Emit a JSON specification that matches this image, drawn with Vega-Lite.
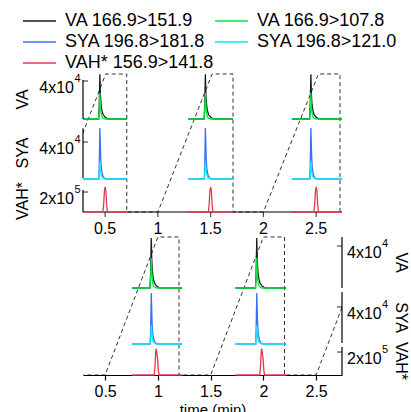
{
"$schema": "https://vega.github.io/schema/vega-lite/v6.json",
"width": 259, "height": 305,
"autosize": {"type": "none"},
"padding": {"left": 83, "top": 70, "right": 69, "bottom": 37},
"config": {"view": {"stroke": null}, "font": "Liberation Sans", "text": {"color": "black"}},
"datasets": {
"tr": [
{"p":"T","n":1,"s":"k","t":0.29,"v":0},{"p":"T","n":1,"s":"k","t":0.438,"v":0},{"p":"T","n":1,"s":"k","t":0.444,"v":14100},{"p":"T","n":1,"s":"k","t":0.45,"v":47000},{"p":"T","n":1,"s":"k","t":0.455,"v":25850},{"p":"T","n":1,"s":"k","t":0.46,"v":16450},{"p":"T","n":1,"s":"k","t":0.468,"v":9400},{"p":"T","n":1,"s":"k","t":0.48,"v":4700},{"p":"T","n":1,"s":"k","t":0.5,"v":1880},{"p":"T","n":1,"s":"k","t":0.53,"v":0},{"p":"T","n":1,"s":"k","t":0.705,"v":0},
{"p":"T","n":2,"s":"k","t":1.285,"v":0},{"p":"T","n":2,"s":"k","t":1.438,"v":0},{"p":"T","n":2,"s":"k","t":1.444,"v":14100},{"p":"T","n":2,"s":"k","t":1.45,"v":47000},{"p":"T","n":2,"s":"k","t":1.455,"v":25850},{"p":"T","n":2,"s":"k","t":1.46,"v":16450},{"p":"T","n":2,"s":"k","t":1.468,"v":9400},{"p":"T","n":2,"s":"k","t":1.48,"v":4700},{"p":"T","n":2,"s":"k","t":1.5,"v":1880},{"p":"T","n":2,"s":"k","t":1.53,"v":0},{"p":"T","n":2,"s":"k","t":1.712,"v":0},
{"p":"T","n":3,"s":"k","t":2.27,"v":0},{"p":"T","n":3,"s":"k","t":2.438,"v":0},{"p":"T","n":3,"s":"k","t":2.444,"v":14100},{"p":"T","n":3,"s":"k","t":2.45,"v":47000},{"p":"T","n":3,"s":"k","t":2.455,"v":25850},{"p":"T","n":3,"s":"k","t":2.46,"v":16450},{"p":"T","n":3,"s":"k","t":2.468,"v":9400},{"p":"T","n":3,"s":"k","t":2.48,"v":4700},{"p":"T","n":3,"s":"k","t":2.5,"v":1880},{"p":"T","n":3,"s":"k","t":2.53,"v":0},{"p":"T","n":3,"s":"k","t":2.745,"v":0},
{"p":"T","n":1,"s":"g","t":0.29,"v":0},{"p":"T","n":1,"s":"g","t":0.438,"v":0},{"p":"T","n":1,"s":"g","t":0.444,"v":9625},{"p":"T","n":1,"s":"g","t":0.45,"v":27500},{"p":"T","n":1,"s":"g","t":0.455,"v":13750},{"p":"T","n":1,"s":"g","t":0.46,"v":6875},{"p":"T","n":1,"s":"g","t":0.468,"v":2750},{"p":"T","n":1,"s":"g","t":0.48,"v":825},{"p":"T","n":1,"s":"g","t":0.5,"v":0},{"p":"T","n":1,"s":"g","t":0.705,"v":0},
{"p":"T","n":2,"s":"g","t":1.285,"v":0},{"p":"T","n":2,"s":"g","t":1.438,"v":0},{"p":"T","n":2,"s":"g","t":1.444,"v":9625},{"p":"T","n":2,"s":"g","t":1.45,"v":27500},{"p":"T","n":2,"s":"g","t":1.455,"v":13750},{"p":"T","n":2,"s":"g","t":1.46,"v":6875},{"p":"T","n":2,"s":"g","t":1.468,"v":2750},{"p":"T","n":2,"s":"g","t":1.48,"v":825},{"p":"T","n":2,"s":"g","t":1.5,"v":0},{"p":"T","n":2,"s":"g","t":1.712,"v":0},
{"p":"T","n":3,"s":"g","t":2.27,"v":0},{"p":"T","n":3,"s":"g","t":2.438,"v":0},{"p":"T","n":3,"s":"g","t":2.444,"v":9625},{"p":"T","n":3,"s":"g","t":2.45,"v":27500},{"p":"T","n":3,"s":"g","t":2.455,"v":13750},{"p":"T","n":3,"s":"g","t":2.46,"v":6875},{"p":"T","n":3,"s":"g","t":2.468,"v":2750},{"p":"T","n":3,"s":"g","t":2.48,"v":825},{"p":"T","n":3,"s":"g","t":2.5,"v":0},{"p":"T","n":3,"s":"g","t":2.745,"v":0},
{"p":"T","n":1,"s":"b","t":0.29,"v":0},{"p":"T","n":1,"s":"b","t":0.44,"v":0},{"p":"T","n":1,"s":"b","t":0.445,"v":22000},{"p":"T","n":1,"s":"b","t":0.45,"v":55000},{"p":"T","n":1,"s":"b","t":0.454,"v":38500},{"p":"T","n":1,"s":"b","t":0.458,"v":22000},{"p":"T","n":1,"s":"b","t":0.464,"v":11000},{"p":"T","n":1,"s":"b","t":0.475,"v":4400},{"p":"T","n":1,"s":"b","t":0.49,"v":1100},{"p":"T","n":1,"s":"b","t":0.51,"v":0},{"p":"T","n":1,"s":"b","t":0.705,"v":0},
{"p":"T","n":2,"s":"b","t":1.285,"v":0},{"p":"T","n":2,"s":"b","t":1.44,"v":0},{"p":"T","n":2,"s":"b","t":1.445,"v":22000},{"p":"T","n":2,"s":"b","t":1.45,"v":55000},{"p":"T","n":2,"s":"b","t":1.454,"v":38500},{"p":"T","n":2,"s":"b","t":1.458,"v":22000},{"p":"T","n":2,"s":"b","t":1.464,"v":11000},{"p":"T","n":2,"s":"b","t":1.475,"v":4400},{"p":"T","n":2,"s":"b","t":1.49,"v":1100},{"p":"T","n":2,"s":"b","t":1.51,"v":0},{"p":"T","n":2,"s":"b","t":1.712,"v":0},
{"p":"T","n":3,"s":"b","t":2.27,"v":0},{"p":"T","n":3,"s":"b","t":2.44,"v":0},{"p":"T","n":3,"s":"b","t":2.445,"v":22000},{"p":"T","n":3,"s":"b","t":2.45,"v":55000},{"p":"T","n":3,"s":"b","t":2.454,"v":38500},{"p":"T","n":3,"s":"b","t":2.458,"v":22000},{"p":"T","n":3,"s":"b","t":2.464,"v":11000},{"p":"T","n":3,"s":"b","t":2.475,"v":4400},{"p":"T","n":3,"s":"b","t":2.49,"v":1100},{"p":"T","n":3,"s":"b","t":2.51,"v":0},{"p":"T","n":3,"s":"b","t":2.745,"v":0},
{"p":"T","n":1,"s":"c","t":0.29,"v":0},{"p":"T","n":1,"s":"c","t":0.44,"v":0},{"p":"T","n":1,"s":"c","t":0.445,"v":7600},{"p":"T","n":1,"s":"c","t":0.45,"v":19000},{"p":"T","n":1,"s":"c","t":0.454,"v":13300},{"p":"T","n":1,"s":"c","t":0.458,"v":7600},{"p":"T","n":1,"s":"c","t":0.464,"v":3800},{"p":"T","n":1,"s":"c","t":0.475,"v":1520},{"p":"T","n":1,"s":"c","t":0.49,"v":380},{"p":"T","n":1,"s":"c","t":0.51,"v":0},{"p":"T","n":1,"s":"c","t":0.705,"v":0},
{"p":"T","n":2,"s":"c","t":1.285,"v":0},{"p":"T","n":2,"s":"c","t":1.44,"v":0},{"p":"T","n":2,"s":"c","t":1.445,"v":7600},{"p":"T","n":2,"s":"c","t":1.45,"v":19000},{"p":"T","n":2,"s":"c","t":1.454,"v":13300},{"p":"T","n":2,"s":"c","t":1.458,"v":7600},{"p":"T","n":2,"s":"c","t":1.464,"v":3800},{"p":"T","n":2,"s":"c","t":1.475,"v":1520},{"p":"T","n":2,"s":"c","t":1.49,"v":380},{"p":"T","n":2,"s":"c","t":1.51,"v":0},{"p":"T","n":2,"s":"c","t":1.712,"v":0},
{"p":"T","n":3,"s":"c","t":2.27,"v":0},{"p":"T","n":3,"s":"c","t":2.44,"v":0},{"p":"T","n":3,"s":"c","t":2.445,"v":7600},{"p":"T","n":3,"s":"c","t":2.45,"v":19000},{"p":"T","n":3,"s":"c","t":2.454,"v":13300},{"p":"T","n":3,"s":"c","t":2.458,"v":7600},{"p":"T","n":3,"s":"c","t":2.464,"v":3800},{"p":"T","n":3,"s":"c","t":2.475,"v":1520},{"p":"T","n":3,"s":"c","t":2.49,"v":380},{"p":"T","n":3,"s":"c","t":2.51,"v":0},{"p":"T","n":3,"s":"c","t":2.745,"v":0},
{"p":"T","n":1,"s":"r","t":0.29,"v":0},{"p":"T","n":1,"s":"r","t":0.478,"v":0},{"p":"T","n":1,"s":"r","t":0.486,"v":75000},{"p":"T","n":1,"s":"r","t":0.493,"v":212500},{"p":"T","n":1,"s":"r","t":0.5,"v":250000},{"p":"T","n":1,"s":"r","t":0.507,"v":212500},{"p":"T","n":1,"s":"r","t":0.514,"v":75000},{"p":"T","n":1,"s":"r","t":0.522,"v":0},{"p":"T","n":1,"s":"r","t":0.705,"v":0},
{"p":"T","n":2,"s":"r","t":1.285,"v":0},{"p":"T","n":2,"s":"r","t":1.478,"v":0},{"p":"T","n":2,"s":"r","t":1.486,"v":75000},{"p":"T","n":2,"s":"r","t":1.493,"v":212500},{"p":"T","n":2,"s":"r","t":1.5,"v":250000},{"p":"T","n":2,"s":"r","t":1.507,"v":212500},{"p":"T","n":2,"s":"r","t":1.514,"v":75000},{"p":"T","n":2,"s":"r","t":1.522,"v":0},{"p":"T","n":2,"s":"r","t":1.712,"v":0},
{"p":"T","n":3,"s":"r","t":2.27,"v":0},{"p":"T","n":3,"s":"r","t":2.478,"v":0},{"p":"T","n":3,"s":"r","t":2.486,"v":75000},{"p":"T","n":3,"s":"r","t":2.493,"v":212500},{"p":"T","n":3,"s":"r","t":2.5,"v":250000},{"p":"T","n":3,"s":"r","t":2.507,"v":212500},{"p":"T","n":3,"s":"r","t":2.514,"v":75000},{"p":"T","n":3,"s":"r","t":2.522,"v":0},{"p":"T","n":3,"s":"r","t":2.745,"v":0},
{"p":"B","n":1,"s":"k","t":0.755,"v":0},{"p":"B","n":1,"s":"k","t":0.925,"v":0},{"p":"B","n":1,"s":"k","t":0.931,"v":14250},{"p":"B","n":1,"s":"k","t":0.937,"v":47500},{"p":"B","n":1,"s":"k","t":0.942,"v":26125},{"p":"B","n":1,"s":"k","t":0.947,"v":16625},{"p":"B","n":1,"s":"k","t":0.955,"v":9500},{"p":"B","n":1,"s":"k","t":0.967,"v":4750},{"p":"B","n":1,"s":"k","t":0.987,"v":1900},{"p":"B","n":1,"s":"k","t":1.017,"v":0},{"p":"B","n":1,"s":"k","t":1.23,"v":0},
{"p":"B","n":2,"s":"k","t":1.735,"v":0},{"p":"B","n":2,"s":"k","t":1.925,"v":0},{"p":"B","n":2,"s":"k","t":1.931,"v":14250},{"p":"B","n":2,"s":"k","t":1.937,"v":47500},{"p":"B","n":2,"s":"k","t":1.942,"v":26125},{"p":"B","n":2,"s":"k","t":1.947,"v":16625},{"p":"B","n":2,"s":"k","t":1.955,"v":9500},{"p":"B","n":2,"s":"k","t":1.967,"v":4750},{"p":"B","n":2,"s":"k","t":1.987,"v":1900},{"p":"B","n":2,"s":"k","t":2.017,"v":0},{"p":"B","n":2,"s":"k","t":2.215,"v":0},
{"p":"B","n":1,"s":"g","t":0.755,"v":0},{"p":"B","n":1,"s":"g","t":0.925,"v":0},{"p":"B","n":1,"s":"g","t":0.931,"v":9975},{"p":"B","n":1,"s":"g","t":0.937,"v":28500},{"p":"B","n":1,"s":"g","t":0.942,"v":14250},{"p":"B","n":1,"s":"g","t":0.947,"v":7125},{"p":"B","n":1,"s":"g","t":0.955,"v":2850},{"p":"B","n":1,"s":"g","t":0.967,"v":855},{"p":"B","n":1,"s":"g","t":0.987,"v":0},{"p":"B","n":1,"s":"g","t":1.23,"v":0},
{"p":"B","n":2,"s":"g","t":1.735,"v":0},{"p":"B","n":2,"s":"g","t":1.925,"v":0},{"p":"B","n":2,"s":"g","t":1.931,"v":9975},{"p":"B","n":2,"s":"g","t":1.937,"v":28500},{"p":"B","n":2,"s":"g","t":1.942,"v":14250},{"p":"B","n":2,"s":"g","t":1.947,"v":7125},{"p":"B","n":2,"s":"g","t":1.955,"v":2850},{"p":"B","n":2,"s":"g","t":1.967,"v":855},{"p":"B","n":2,"s":"g","t":1.987,"v":0},{"p":"B","n":2,"s":"g","t":2.215,"v":0},
{"p":"B","n":1,"s":"b","t":0.755,"v":0},{"p":"B","n":1,"s":"b","t":0.927,"v":0},{"p":"B","n":1,"s":"b","t":0.932,"v":22000},{"p":"B","n":1,"s":"b","t":0.937,"v":55000},{"p":"B","n":1,"s":"b","t":0.941,"v":38500},{"p":"B","n":1,"s":"b","t":0.945,"v":22000},{"p":"B","n":1,"s":"b","t":0.951,"v":11000},{"p":"B","n":1,"s":"b","t":0.962,"v":4400},{"p":"B","n":1,"s":"b","t":0.977,"v":1100},{"p":"B","n":1,"s":"b","t":0.997,"v":0},{"p":"B","n":1,"s":"b","t":1.23,"v":0},
{"p":"B","n":2,"s":"b","t":1.735,"v":0},{"p":"B","n":2,"s":"b","t":1.927,"v":0},{"p":"B","n":2,"s":"b","t":1.932,"v":22000},{"p":"B","n":2,"s":"b","t":1.937,"v":55000},{"p":"B","n":2,"s":"b","t":1.941,"v":38500},{"p":"B","n":2,"s":"b","t":1.945,"v":22000},{"p":"B","n":2,"s":"b","t":1.951,"v":11000},{"p":"B","n":2,"s":"b","t":1.962,"v":4400},{"p":"B","n":2,"s":"b","t":1.977,"v":1100},{"p":"B","n":2,"s":"b","t":1.997,"v":0},{"p":"B","n":2,"s":"b","t":2.215,"v":0},
{"p":"B","n":1,"s":"c","t":0.755,"v":0},{"p":"B","n":1,"s":"c","t":0.927,"v":0},{"p":"B","n":1,"s":"c","t":0.932,"v":8000},{"p":"B","n":1,"s":"c","t":0.937,"v":20000},{"p":"B","n":1,"s":"c","t":0.941,"v":14000},{"p":"B","n":1,"s":"c","t":0.945,"v":8000},{"p":"B","n":1,"s":"c","t":0.951,"v":4000},{"p":"B","n":1,"s":"c","t":0.962,"v":1600},{"p":"B","n":1,"s":"c","t":0.977,"v":400},{"p":"B","n":1,"s":"c","t":0.997,"v":0},{"p":"B","n":1,"s":"c","t":1.23,"v":0},
{"p":"B","n":2,"s":"c","t":1.735,"v":0},{"p":"B","n":2,"s":"c","t":1.927,"v":0},{"p":"B","n":2,"s":"c","t":1.932,"v":8000},{"p":"B","n":2,"s":"c","t":1.937,"v":20000},{"p":"B","n":2,"s":"c","t":1.941,"v":14000},{"p":"B","n":2,"s":"c","t":1.945,"v":8000},{"p":"B","n":2,"s":"c","t":1.951,"v":4000},{"p":"B","n":2,"s":"c","t":1.962,"v":1600},{"p":"B","n":2,"s":"c","t":1.977,"v":400},{"p":"B","n":2,"s":"c","t":1.997,"v":0},{"p":"B","n":2,"s":"c","t":2.215,"v":0},
{"p":"B","n":1,"s":"r","t":0.755,"v":0},{"p":"B","n":1,"s":"r","t":0.965,"v":0},{"p":"B","n":1,"s":"r","t":0.973,"v":80000},{"p":"B","n":1,"s":"r","t":0.979,"v":200000},{"p":"B","n":1,"s":"r","t":0.984,"v":230000},{"p":"B","n":1,"s":"r","t":0.991,"v":180000},{"p":"B","n":1,"s":"r","t":0.997,"v":140000},{"p":"B","n":1,"s":"r","t":1.004,"v":40000},{"p":"B","n":1,"s":"r","t":1.012,"v":0},{"p":"B","n":1,"s":"r","t":1.23,"v":0},
{"p":"B","n":2,"s":"r","t":1.735,"v":0},{"p":"B","n":2,"s":"r","t":1.965,"v":0},{"p":"B","n":2,"s":"r","t":1.973,"v":80000},{"p":"B","n":2,"s":"r","t":1.979,"v":200000},{"p":"B","n":2,"s":"r","t":1.984,"v":230000},{"p":"B","n":2,"s":"r","t":1.991,"v":180000},{"p":"B","n":2,"s":"r","t":1.997,"v":140000},{"p":"B","n":2,"s":"r","t":2.004,"v":40000},{"p":"B","n":2,"s":"r","t":2.012,"v":0},{"p":"B","n":2,"s":"r","t":2.215,"v":0}
],
"ax": [
{"p":"T","lane":"VA","lo":0,"hi":41000,"tv":40000,"lab":"4x10","sup":"4"},
{"p":"T","lane":"SYA","lo":1000,"hi":55000,"tv":40000,"lab":"4x10","sup":"4"},
{"p":"T","lane":"VAH*","lo":0,"hi":220000,"tv":200000,"lab":"2x10","sup":"5"},
{"p":"B","lane":"VA","lo":0,"hi":48600,"tv":40000,"lab":"4x10","sup":"4"},
{"p":"B","lane":"SYA","lo":1000,"hi":56200,"tv":40000,"lab":"4x10","sup":"4"},
{"p":"B","lane":"VAH*","lo":0,"hi":243000,"tv":200000,"lab":"2x10","sup":"5"}
],
"dash": [
{"p":"T","i":0,"t":0.0,"f":0},{"p":"T","i":1,"t":0.505,"f":1},{"p":"T","i":2,"t":0.705,"f":1},{"p":"T","i":3,"t":0.705,"f":0},
{"p":"T","i":4,"t":1.0,"f":0},{"p":"T","i":5,"t":1.513,"f":1},{"p":"T","i":6,"t":1.712,"f":1},{"p":"T","i":7,"t":1.712,"f":0},
{"p":"T","i":8,"t":2.0,"f":0},{"p":"T","i":9,"t":2.522,"f":1},{"p":"T","i":10,"t":2.726,"f":1},{"p":"T","i":11,"t":2.726,"f":0},
{"p":"B","i":0,"t":0.2,"f":0},{"p":"B","i":1,"t":0.5,"f":0},{"p":"B","i":2,"t":1.0,"f":1},{"p":"B","i":3,"t":1.2,"f":1},{"p":"B","i":4,"t":1.2,"f":0},
{"p":"B","i":5,"t":1.5,"f":0},{"p":"B","i":6,"t":2.0,"f":1},{"p":"B","i":7,"t":2.2,"f":1},{"p":"B","i":8,"t":2.2,"f":0},
{"p":"B","i":9,"t":2.5,"f":0},{"p":"B","i":10,"t":3.0,"f":1}
],
"xt": [{"t":0.5},{"t":1},{"t":1.5},{"t":2},{"t":2.5}]
},
"layer": [
{"layer": [
 {"data": {"name": "dash"}, "transform": [{"filter": "datum.p=='B'"}], "mark": {"type": "line", "color": "#333", "strokeWidth": 1, "strokeDash": [4, 3], "clip": true},
  "encoding": {"x": {"field": "t", "type": "quantitative", "title": "time (min)", "scale": {"domain": [0.29, 2.745], "nice": false, "zero": false},
   "axis": {"values": [0.5,1,1.5,2,2.5], "format": "~g", "grid": false, "tickSize": 5, "labelPadding": 3, "labelFontSize": 16, "labelColor": "black", "titleFontSize": 15, "titleFontWeight": "normal", "titleColor": "black", "titlePadding": 3, "domainColor": "black", "domainWidth": 1.2, "tickColor": "black", "tickWidth": 1.2, "labelFlush": false}},
   "y": {"field": "f", "type": "quantitative", "scale": {"domain": [0, 2.2101], "nice": false, "zero": false}, "axis": null}, "order": {"field": "i"}}}
]},
{"layer": [
 {"data": {"name": "dash"}, "transform": [{"filter": "datum.p=='T'"}], "mark": {"type": "line", "color": "#333", "strokeWidth": 1, "strokeDash": [4, 3], "clip": true},
  "encoding": {"x": {"field": "t", "type": "quantitative", "title": "time (min)"}, "y": {"field": "f", "type": "quantitative", "scale": {"domain": [-1.1812, 1.029], "nice": false, "zero": false}, "axis": null}, "order": {"field": "i"}}},
 {"data": {"values": [{}]}, "mark": {"type": "rule", "color": "black", "strokeWidth": 1.2}, "encoding": {"x": {"datum": 0.29, "type": "quantitative", "title": "time (min)"}, "x2": {"datum": 2.745}, "y": {"datum": 0}}},
 {"data": {"name": "xt"}, "mark": {"type": "tick", "orient": "vertical", "size": 5, "thickness": 1.2, "yOffset": 2.5, "color": "black"}, "encoding": {"x": {"field": "t", "type": "quantitative", "title": "time (min)"}, "y": {"datum": 0}}},
 {"data": {"name": "xt"}, "mark": {"type": "text", "baseline": "top", "dy": 9, "fontSize": 16}, "encoding": {"x": {"field": "t", "type": "quantitative", "title": "time (min)"}, "y": {"datum": 0}, "text": {"field": "t", "type": "quantitative", "format": "~g"}}}
]},
{"layer": [
 {"data": {"name": "tr"}, "transform": [{"filter": "datum.p=='T' && (datum.s=='k' || datum.s=='g')"}], "mark": {"type": "line", "strokeWidth": 1.3},
  "encoding": {"x": {"field": "t", "type": "quantitative", "title": "time (min)"}, "y": {"field": "v", "type": "quantitative", "scale": {"domain": [-269474, 51579], "nice": false, "zero": false}, "axis": null},
   "color": {"field": "s", "type": "nominal", "scale": {"domain": ["k","b","r","g","c"], "range": ["#1a1a1a","#3b6ff2","#e5384c","#00e640","#14e6f2"]},
    "legend": {"orient": "none", "legendX": -61, "legendY": -58, "columns": 2, "title": null, "symbolType": "stroke", "symbolSize": 1089, "symbolStrokeWidth": 1.5, "labelFontSize": 18, "labelColor": "black", "labelOffset": 8, "columnPadding": -16, "rowPadding": 3, "labelLimit": 400, "padding": 0, "clipHeight": 18,
     "labelExpr": "datum.label=='k'?'VA 166.9>151.9':datum.label=='g'?'VA 166.9>107.8':datum.label=='b'?'SYA 196.8>181.8':datum.label=='c'?'SYA 196.8>121.0':'VAH* 156.9>141.8'"}},
   "detail": {"field": "n", "type": "nominal"}}},
 {"data": {"name": "ax"}, "transform": [{"filter": "datum.p=='T' && datum.lane=='VA'"}], "mark": {"type": "rule", "color": "black", "strokeWidth": 1.2}, "encoding": {"x": {"datum": 0.29, "type": "quantitative", "title": "time (min)"}, "y": {"field": "lo", "type": "quantitative"}, "y2": {"field": "hi"}}},
 {"data": {"name": "ax"}, "transform": [{"filter": "datum.p=='T' && datum.lane=='VA'"}], "mark": {"type": "tick", "orient": "horizontal", "size": 5, "thickness": 1.2, "xOffset": 2.5, "color": "black"}, "encoding": {"x": {"datum": 0.29, "type": "quantitative", "title": "time (min)"}, "y": {"field": "tv", "type": "quantitative"}}},
 {"data": {"name": "ax"}, "transform": [{"filter": "datum.p=='T' && datum.lane=='VA'"}], "mark": {"type": "text", "align": "right", "baseline": "alphabetic", "dx": -9, "dy": 12, "fontSize": 16}, "encoding": {"x": {"datum": 0.29, "type": "quantitative", "title": "time (min)"}, "y": {"field": "tv", "type": "quantitative"}, "text": {"field": "lab", "type": "nominal"}}},
 {"data": {"name": "ax"}, "transform": [{"filter": "datum.p=='T' && datum.lane=='VA'"}], "mark": {"type": "text", "align": "left", "baseline": "alphabetic", "dx": -8.5, "dy": 1, "fontSize": 11}, "encoding": {"x": {"datum": 0.29, "type": "quantitative", "title": "time (min)"}, "y": {"field": "tv", "type": "quantitative"}, "text": {"field": "sup", "type": "nominal"}}},
 {"data": {"name": "ax"}, "transform": [{"filter": "datum.p=='T' && datum.lane=='VA'"}, {"calculate": "(datum.lo+datum.hi)/2", "as": "mid"}], "mark": {"type": "text", "align": "center", "baseline": "alphabetic", "angle": 270, "dy": -55, "fontSize": 16}, "encoding": {"x": {"datum": 0.29, "type": "quantitative", "title": "time (min)"}, "y": {"field": "mid", "type": "quantitative"}, "text": {"field": "lane", "type": "nominal"}}}
]},
{"layer": [
 {"data": {"name": "tr"}, "transform": [{"filter": "datum.p=='T' && (datum.s=='b' || datum.s=='c')"}], "mark": {"type": "line", "strokeWidth": 1.3},
  "encoding": {"x": {"field": "t", "type": "quantitative", "title": "time (min)"}, "y": {"field": "v", "type": "quantitative", "scale": {"domain": [-211892, 117838], "nice": false, "zero": false}, "axis": null},
   "color": {"field": "s", "type": "nominal", "legend": null}, "detail": {"field": "n", "type": "nominal"}}},
 {"data": {"name": "ax"}, "transform": [{"filter": "datum.p=='T' && datum.lane=='SYA'"}], "mark": {"type": "rule", "color": "black", "strokeWidth": 1.2}, "encoding": {"x": {"datum": 0.29, "type": "quantitative", "title": "time (min)"}, "y": {"field": "lo", "type": "quantitative"}, "y2": {"field": "hi"}}},
 {"data": {"name": "ax"}, "transform": [{"filter": "datum.p=='T' && datum.lane=='SYA'"}], "mark": {"type": "tick", "orient": "horizontal", "size": 5, "thickness": 1.2, "xOffset": 2.5, "color": "black"}, "encoding": {"x": {"datum": 0.29, "type": "quantitative", "title": "time (min)"}, "y": {"field": "tv", "type": "quantitative"}}},
 {"data": {"name": "ax"}, "transform": [{"filter": "datum.p=='T' && datum.lane=='SYA'"}], "mark": {"type": "text", "align": "right", "baseline": "alphabetic", "dx": -9, "dy": 12, "fontSize": 16}, "encoding": {"x": {"datum": 0.29, "type": "quantitative", "title": "time (min)"}, "y": {"field": "tv", "type": "quantitative"}, "text": {"field": "lab", "type": "nominal"}}},
 {"data": {"name": "ax"}, "transform": [{"filter": "datum.p=='T' && datum.lane=='SYA'"}], "mark": {"type": "text", "align": "left", "baseline": "alphabetic", "dx": -8.5, "dy": 1, "fontSize": 11}, "encoding": {"x": {"datum": 0.29, "type": "quantitative", "title": "time (min)"}, "y": {"field": "tv", "type": "quantitative"}, "text": {"field": "sup", "type": "nominal"}}},
 {"data": {"name": "ax"}, "transform": [{"filter": "datum.p=='T' && datum.lane=='SYA'"}, {"calculate": "(datum.lo+datum.hi)/2", "as": "mid"}], "mark": {"type": "text", "align": "center", "baseline": "alphabetic", "angle": 270, "dy": -55, "fontSize": 16}, "encoding": {"x": {"datum": 0.29, "type": "quantitative", "title": "time (min)"}, "y": {"field": "mid", "type": "quantitative"}, "text": {"field": "lane", "type": "nominal"}}}
]},
{"layer": [
 {"data": {"name": "tr"}, "transform": [{"filter": "datum.p=='T' && datum.s=='r'"}], "mark": {"type": "line", "strokeWidth": 1.3},
  "encoding": {"x": {"field": "t", "type": "quantitative", "title": "time (min)"}, "y": {"field": "v", "type": "quantitative", "scale": {"domain": [-1630000, 1420000], "nice": false, "zero": false}, "axis": null},
   "color": {"field": "s", "type": "nominal", "legend": null}, "detail": {"field": "n", "type": "nominal"}}},
 {"data": {"name": "ax"}, "transform": [{"filter": "datum.p=='T' && datum.lane=='VAH*'"}], "mark": {"type": "rule", "color": "black", "strokeWidth": 1.2}, "encoding": {"x": {"datum": 0.29, "type": "quantitative", "title": "time (min)"}, "y": {"field": "lo", "type": "quantitative"}, "y2": {"field": "hi"}}},
 {"data": {"name": "ax"}, "transform": [{"filter": "datum.p=='T' && datum.lane=='VAH*'"}], "mark": {"type": "tick", "orient": "horizontal", "size": 5, "thickness": 1.2, "xOffset": 2.5, "color": "black"}, "encoding": {"x": {"datum": 0.29, "type": "quantitative", "title": "time (min)"}, "y": {"field": "tv", "type": "quantitative"}}},
 {"data": {"name": "ax"}, "transform": [{"filter": "datum.p=='T' && datum.lane=='VAH*'"}], "mark": {"type": "text", "align": "right", "baseline": "alphabetic", "dx": -9, "dy": 12, "fontSize": 16}, "encoding": {"x": {"datum": 0.29, "type": "quantitative", "title": "time (min)"}, "y": {"field": "tv", "type": "quantitative"}, "text": {"field": "lab", "type": "nominal"}}},
 {"data": {"name": "ax"}, "transform": [{"filter": "datum.p=='T' && datum.lane=='VAH*'"}], "mark": {"type": "text", "align": "left", "baseline": "alphabetic", "dx": -8.5, "dy": 1, "fontSize": 11}, "encoding": {"x": {"datum": 0.29, "type": "quantitative", "title": "time (min)"}, "y": {"field": "tv", "type": "quantitative"}, "text": {"field": "sup", "type": "nominal"}}},
 {"data": {"name": "ax"}, "transform": [{"filter": "datum.p=='T' && datum.lane=='VAH*'"}, {"calculate": "(datum.lo+datum.hi)/2", "as": "mid"}], "mark": {"type": "text", "align": "center", "baseline": "alphabetic", "angle": 270, "dy": -55, "fontSize": 16}, "encoding": {"x": {"datum": 0.29, "type": "quantitative", "title": "time (min)"}, "y": {"field": "mid", "type": "quantitative"}, "text": {"field": "lane", "type": "nominal"}}}
]},
{"layer": [
 {"data": {"name": "tr"}, "transform": [{"filter": "datum.p=='B' && (datum.s=='k' || datum.s=='g')"}], "mark": {"type": "line", "strokeWidth": 1.3},
  "encoding": {"x": {"field": "t", "type": "quantitative", "title": "time (min)"}, "y": {"field": "v", "type": "quantitative", "scale": {"domain": [-82857, 207619], "nice": false, "zero": false}, "axis": null},
   "color": {"field": "s", "type": "nominal", "legend": null}, "detail": {"field": "n", "type": "nominal"}}},
 {"data": {"name": "ax"}, "transform": [{"filter": "datum.p=='B' && datum.lane=='VA'"}], "mark": {"type": "rule", "color": "black", "strokeWidth": 1.2}, "encoding": {"x": {"datum": 2.745, "type": "quantitative", "title": "time (min)"}, "y": {"field": "lo", "type": "quantitative"}, "y2": {"field": "hi"}}},
 {"data": {"name": "ax"}, "transform": [{"filter": "datum.p=='B' && datum.lane=='VA'"}], "mark": {"type": "tick", "orient": "horizontal", "size": 5, "thickness": 1.2, "xOffset": -2.5, "color": "black"}, "encoding": {"x": {"datum": 2.745, "type": "quantitative", "title": "time (min)"}, "y": {"field": "tv", "type": "quantitative"}}},
 {"data": {"name": "ax"}, "transform": [{"filter": "datum.p=='B' && datum.lane=='VA'"}], "mark": {"type": "text", "align": "left", "baseline": "alphabetic", "dx": 5, "dy": 12, "fontSize": 16}, "encoding": {"x": {"datum": 2.745, "type": "quantitative", "title": "time (min)"}, "y": {"field": "tv", "type": "quantitative"}, "text": {"field": "lab", "type": "nominal"}}},
 {"data": {"name": "ax"}, "transform": [{"filter": "datum.p=='B' && datum.lane=='VA'"}], "mark": {"type": "text", "align": "left", "baseline": "alphabetic", "dx": 40, "dy": 1, "fontSize": 11}, "encoding": {"x": {"datum": 2.745, "type": "quantitative", "title": "time (min)"}, "y": {"field": "tv", "type": "quantitative"}, "text": {"field": "sup", "type": "nominal"}}},
 {"data": {"name": "ax"}, "transform": [{"filter": "datum.p=='B' && datum.lane=='VA'"}, {"calculate": "(datum.lo+datum.hi)/2", "as": "mid"}], "mark": {"type": "text", "align": "center", "baseline": "alphabetic", "angle": 90, "dy": -54, "fontSize": 16}, "encoding": {"x": {"datum": 2.745, "type": "quantitative", "title": "time (min)"}, "y": {"field": "mid", "type": "quantitative"}, "text": {"field": "lane", "type": "nominal"}}}
]},
{"layer": [
 {"data": {"name": "tr"}, "transform": [{"filter": "datum.p=='B' && (datum.s=='b' || datum.s=='c')"}], "mark": {"type": "line", "strokeWidth": 1.3},
  "encoding": {"x": {"field": "t", "type": "quantitative", "title": "time (min)"}, "y": {"field": "v", "type": "quantitative", "scale": {"domain": [-33514, 296216], "nice": false, "zero": false}, "axis": null},
   "color": {"field": "s", "type": "nominal", "legend": null}, "detail": {"field": "n", "type": "nominal"}}},
 {"data": {"name": "ax"}, "transform": [{"filter": "datum.p=='B' && datum.lane=='SYA'"}], "mark": {"type": "rule", "color": "black", "strokeWidth": 1.2}, "encoding": {"x": {"datum": 2.745, "type": "quantitative", "title": "time (min)"}, "y": {"field": "lo", "type": "quantitative"}, "y2": {"field": "hi"}}},
 {"data": {"name": "ax"}, "transform": [{"filter": "datum.p=='B' && datum.lane=='SYA'"}], "mark": {"type": "tick", "orient": "horizontal", "size": 5, "thickness": 1.2, "xOffset": -2.5, "color": "black"}, "encoding": {"x": {"datum": 2.745, "type": "quantitative", "title": "time (min)"}, "y": {"field": "tv", "type": "quantitative"}}},
 {"data": {"name": "ax"}, "transform": [{"filter": "datum.p=='B' && datum.lane=='SYA'"}], "mark": {"type": "text", "align": "left", "baseline": "alphabetic", "dx": 5, "dy": 12, "fontSize": 16}, "encoding": {"x": {"datum": 2.745, "type": "quantitative", "title": "time (min)"}, "y": {"field": "tv", "type": "quantitative"}, "text": {"field": "lab", "type": "nominal"}}},
 {"data": {"name": "ax"}, "transform": [{"filter": "datum.p=='B' && datum.lane=='SYA'"}], "mark": {"type": "text", "align": "left", "baseline": "alphabetic", "dx": 40, "dy": 1, "fontSize": 11}, "encoding": {"x": {"datum": 2.745, "type": "quantitative", "title": "time (min)"}, "y": {"field": "tv", "type": "quantitative"}, "text": {"field": "sup", "type": "nominal"}}},
 {"data": {"name": "ax"}, "transform": [{"filter": "datum.p=='B' && datum.lane=='SYA'"}, {"calculate": "(datum.lo+datum.hi)/2", "as": "mid"}], "mark": {"type": "text", "align": "center", "baseline": "alphabetic", "angle": 90, "dy": -54, "fontSize": 16}, "encoding": {"x": {"datum": 2.745, "type": "quantitative", "title": "time (min)"}, "y": {"field": "mid", "type": "quantitative"}, "text": {"field": "lane", "type": "nominal"}}}
]},
{"layer": [
 {"data": {"name": "tr"}, "transform": [{"filter": "datum.p=='B' && datum.s=='r'"}], "mark": {"type": "line", "strokeWidth": 1.3},
  "encoding": {"x": {"field": "t", "type": "quantitative", "title": "time (min)"}, "y": {"field": "v", "type": "quantitative", "scale": {"domain": [0, 2652174], "nice": false, "zero": false}, "axis": null},
   "color": {"field": "s", "type": "nominal", "legend": null}, "detail": {"field": "n", "type": "nominal"}}},
 {"data": {"name": "ax"}, "transform": [{"filter": "datum.p=='B' && datum.lane=='VAH*'"}], "mark": {"type": "rule", "color": "black", "strokeWidth": 1.2}, "encoding": {"x": {"datum": 2.745, "type": "quantitative", "title": "time (min)"}, "y": {"field": "lo", "type": "quantitative"}, "y2": {"field": "hi"}}},
 {"data": {"name": "ax"}, "transform": [{"filter": "datum.p=='B' && datum.lane=='VAH*'"}], "mark": {"type": "tick", "orient": "horizontal", "size": 5, "thickness": 1.2, "xOffset": -2.5, "color": "black"}, "encoding": {"x": {"datum": 2.745, "type": "quantitative", "title": "time (min)"}, "y": {"field": "tv", "type": "quantitative"}}},
 {"data": {"name": "ax"}, "transform": [{"filter": "datum.p=='B' && datum.lane=='VAH*'"}], "mark": {"type": "text", "align": "left", "baseline": "alphabetic", "dx": 5, "dy": 12, "fontSize": 16}, "encoding": {"x": {"datum": 2.745, "type": "quantitative", "title": "time (min)"}, "y": {"field": "tv", "type": "quantitative"}, "text": {"field": "lab", "type": "nominal"}}},
 {"data": {"name": "ax"}, "transform": [{"filter": "datum.p=='B' && datum.lane=='VAH*'"}], "mark": {"type": "text", "align": "left", "baseline": "alphabetic", "dx": 40, "dy": 1, "fontSize": 11}, "encoding": {"x": {"datum": 2.745, "type": "quantitative", "title": "time (min)"}, "y": {"field": "tv", "type": "quantitative"}, "text": {"field": "sup", "type": "nominal"}}},
 {"data": {"name": "ax"}, "transform": [{"filter": "datum.p=='B' && datum.lane=='VAH*'"}, {"calculate": "(datum.lo+datum.hi)/2", "as": "mid"}], "mark": {"type": "text", "align": "center", "baseline": "alphabetic", "angle": 90, "dy": -54, "fontSize": 16}, "encoding": {"x": {"datum": 2.745, "type": "quantitative", "title": "time (min)"}, "y": {"field": "mid", "type": "quantitative"}, "text": {"field": "lane", "type": "nominal"}}}
]}
],
"resolve": {"scale": {"y": "independent"}}
}
